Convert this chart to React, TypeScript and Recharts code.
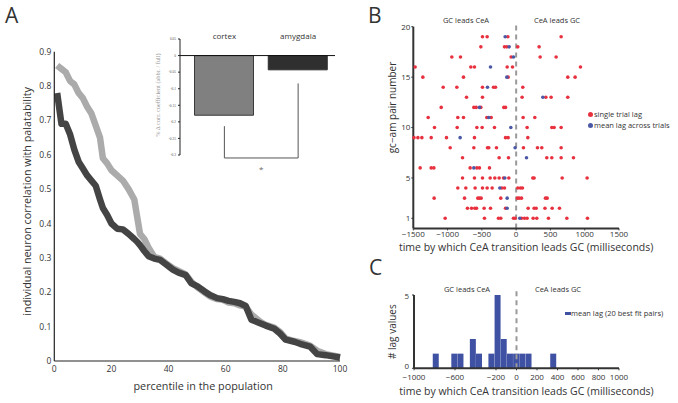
import React from 'react';
import {
  LineChart,
  Line,
  XAxis,
  YAxis,
  BarChart,
  Bar,
  Cell,
  ScatterChart,
  Scatter,
  ReferenceLine,
  Legend,
  Label,
} from 'recharts';

const FONT = '"Open Sans", sans-serif';
const INK = '#333';

// ---- panel A: correlation with palatability by percentile
const percentile = [
  1, 2.5, 4, 5.5, 7, 8.5, 10, 11.5, 13, 14.5, 16, 17, 18.5, 20, 22, 24, 26, 28, 29, 30, 31.5, 33, 35, 37, 39, 41.5,
  43.5, 46, 48, 50, 52.5, 54.5, 57, 59, 61, 63, 65, 67, 69, 72, 74, 77, 79, 81, 84, 86, 89.5, 92, 95, 100,
];
const cortexCorr = [
  0.86, 0.85, 0.84, 0.815, 0.805, 0.78, 0.765, 0.74, 0.72, 0.685, 0.65, 0.59, 0.575, 0.555, 0.54, 0.525, 0.5, 0.47,
  0.42, 0.37, 0.355, 0.33, 0.303, 0.298, 0.285, 0.27, 0.262, 0.252, 0.23, 0.215, 0.2, 0.188, 0.18, 0.178, 0.17, 0.168,
  0.162, 0.158, 0.135, 0.115, 0.105, 0.097, 0.085, 0.065, 0.058, 0.055, 0.045, 0.03, 0.02, 0.012,
];
const amygdalaCorr = [
  0.78, 0.69, 0.69, 0.66, 0.615, 0.58, 0.56, 0.54, 0.525, 0.51, 0.47, 0.445, 0.425, 0.4, 0.385, 0.383, 0.37, 0.355,
  0.347, 0.337, 0.32, 0.305, 0.298, 0.294, 0.282, 0.266, 0.257, 0.25, 0.226, 0.218, 0.203, 0.192, 0.183, 0.18, 0.175,
  0.172, 0.168, 0.16, 0.12, 0.11, 0.103, 0.094, 0.08, 0.062, 0.056, 0.05, 0.042, 0.02, 0.017, 0.01,
];
const pctTicks = [0, 20, 40, 60, 80, 100];
const corrTicks = [0, 0.1, 0.2, 0.3, 0.4, 0.5, 0.6, 0.7, 0.8, 0.9];

// inset: change of correlation coefficient
const insetGroups = ['cortex', 'amygdala'];
const insetChange = [-0.18, -0.043];
const insetColors = ['#808080', '#2f2f2f'];
const insetTicks = [0.05, 0, -0.05, -0.1, -0.15, -0.2, -0.25, -0.3];

// ---- panel B: lag per gc-am pair
const pairRows = [1, 2, 3, 4, 5, 6, 7, 8, 9, 10, 11, 12, 13, 14, 15, 16, 17, 18, 19];
const singleTrialLags = [
  [-1035, -462, -258, -224, -39, -15, 78, 121, 160, 248, 301, 471, 739, 1040],
  [-710, -651, -603, -578, -467, -374, -155, 175, 262, 292, 420, 525, 632],
  [-1196, -753, -559, -535, -510, -224, 19, 44, 78, 428, 452],
  [-851, -734, -598, -491, -423, -350, -209, -170, 24, 63, 92],
  [-782, -608, -491, -379, -311, -248, -185, -107, 243, 262, 671, 1035],
  [-1400, -1239, -1200, -671, -573, -535, -389],
  [-782, -248, -112, 447, 520, 656, 836],
  [-962, -617, -418, -399, -287, 107, 311, 374, 656],
  [-1490, -1433, -1375, -1239, -1016, -608, -155, -117, 170],
  [-1191, -860, -573, -496, -316, 160, 520, 554, 656],
  [-1283, -851, -768, -428, -364, 102, 272],
  [-1093, -617, -583, -515, -180, -155],
  [-724, -491, 87, 433, 510, 753],
  [-1064, -865, -491, -330, -301, 97],
  [-1361, -768, -117, 753, 860],
  [-1473, -661, -608, -131, -53, 938],
  [-938, -812, -73, 350, 583],
  [-515, -170, -136, 24, 335],
  [-491, -423, -121, 656],
];
const meanLags = [53, -131, -131, -238, -165, -617, 151, -15, -817, -78, -399, -535, 389, -418, -136, -374, -39, -102, -160];
const lagTicksB = [-1500, -1000, -500, 0, 500, 1000, 1500];
const pairTicks = [1, 5, 10, 15, 20];

// ---- panel C: histogram of mean lags (20 equal bins)
const binCenters = [
  -787, -727, -666, -606, -546, -486, -425, -365, -305, -244, -184, -124, -63, -3, 57, 118, 178, 238, 299, 359,
];
const binCounts = [1, 0, 0, 1, 1, 0, 2, 1, 0, 1, 5, 2, 1, 1, 1, 1, 0, 0, 0, 1];
const lagTicksC = [-1000, -800, -600, -400, -200, 0, 200, 400, 600, 800, 1000];

const lineData = percentile.map((p, i) => ({ p, cortex: cortexCorr[i], amygdala: amygdalaCorr[i] }));
const insetData = insetGroups.map((g, i) => ({ group: g, change: insetChange[i] }));
const trialPoints = pairRows.flatMap((row, i) => singleTrialLags[i].map((lag) => ({ lag, pair: row })));
const meanPoints = pairRows.map((row, i) => ({ lag: meanLags[i], pair: row }));
const histData = binCenters.map((c, i) => ({ center: c, count: binCounts[i] }));

const minus = (v: number) => String(v).replace('-', '\u2212');

function AxisTitle(props: any) {
  const { viewBox, text, dx = 0, dy = 0, rotate = false, size = 10, color = INK, family = FONT } = props;
  const vb = viewBox || { x: 0, y: 0, width: 0, height: 0 };
  const x = vb.x + (rotate ? dx : vb.width / 2 + dx);
  const y = vb.y + (rotate ? vb.height / 2 + dy : dy);
  return (
    <text
      x={x}
      y={y}
      textAnchor="middle"
      dominantBaseline="central"
      transform={rotate ? `rotate(-90 ${x} ${y})` : undefined}
      fontSize={size}
      fill={color}
      fontFamily={family}
    >
      {text}
    </text>
  );
}

// y tick of panel C: the zero label sits a little higher so it clears the x ticks
function CountTick(props: any) {
  const { x, y, payload } = props;
  const lift = payload.value === 0 ? 3 : 0;
  return (
    <text x={x} y={y - lift} textAnchor="end" dominantBaseline="central" fontSize={8} fill={INK} fontFamily={FONT}>
      {payload.value}
    </text>
  );
}

function DotShape(props: any) {
  const { cx, cy, fill } = props;
  if (cx == null || cy == null) return null;
  return <circle cx={cx} cy={cy} r={1.8} fill={fill} />;
}

function LegendList(props: any) {
  const { payload, bar, order } = props;
  const items = [...(payload || [])];
  if (order) items.sort((a: any, b: any) => order.indexOf(a.value) - order.indexOf(b.value));
  return (
    <div style={{ fontSize: 7.5, color: INK, lineHeight: '11px', fontFamily: FONT, whiteSpace: 'nowrap' }}>
      {items.map((e: any) => (
        <div key={e.value} style={{ display: 'flex', alignItems: 'center' }}>
          <span
            style={{
              display: 'inline-block',
              width: bar ? 6 : 5,
              height: bar ? 3 : 5,
              borderRadius: bar ? 0 : '50%',
              background: e.color,
              marginRight: bar ? 0 : 1,
            }}
          />
          {e.value}
        </div>
      ))}
    </div>
  );
}

const tickStyle = { fontSize: 8, fill: INK, fontFamily: FONT };

const abs = (left: number, top: number): React.CSSProperties => ({ position: 'absolute', left, top });

export default function App() {
  return (
    <div style={{ position: 'absolute', left: 0, top: 0, width: 678, height: 403, background: '#fff', fontFamily: FONT, color: INK, overflow: 'hidden' }}>
      {/* panel A */}
      <div style={abs(0, 0)}>
        <LineChart width={360} height={403} data={lineData} margin={{ top: 51.7, right: 20, bottom: 0, left: 0 }}>
          <XAxis
            dataKey="p"
            type="number"
            domain={[0, 100]}
            ticks={pctTicks}
            tickLine={false}
            tickSize={0}
            tickMargin={5}
            height={42}
            axisLine={{ stroke: '#222', strokeWidth: 1.2 }}
            tick={{ ...tickStyle, fontSize: 8.5 }}
          >
            <Label content={(p: any) => <AxisTitle {...p} text="percentile in the population" dy={24} dx={6} size={10.8} />} />
          </XAxis>
          <YAxis
            type="number"
            domain={[0, 0.9]}
            ticks={corrTicks}
            width={54.3}
            tickLine={false}
            tickSize={0}
            tickMargin={3}
            axisLine={{ stroke: '#222', strokeWidth: 1.2 }}
            tick={{ ...tickStyle, fontSize: 8.5 }}
            tickFormatter={(v: number) => (v === 0 ? '0' : v.toFixed(1))}
          >
            <Label
              content={(p: any) => (
                <AxisTitle {...p} text="individual neuron correlation with palatability" rotate dx={27} dy={-5} size={10.8} />
              )}
            />
          </YAxis>
          <Line dataKey="cortex" type="linear" stroke="#ababab" strokeWidth={6.5} dot={false} strokeLinejoin="round" isAnimationActive={false} />
          <Line dataKey="amygdala" type="linear" stroke="#444" strokeWidth={6.5} dot={false} strokeLinejoin="round" isAnimationActive={false} />
        </LineChart>
      </div>

      {/* inset */}
      <div style={abs(130, 20)}>
        <BarChart width={210} height={165} data={insetData} margin={{ top: 0, right: 5, bottom: 30, left: 0 }}>
          <XAxis
            dataKey="group"
            orientation="top"
            height={19}
            axisLine={false}
            tickLine={false}
            tickSize={0}
            tickMargin={0}
            padding={{ left: 7.5, right: 0 }}
            tick={{ ...tickStyle, fontSize: 8 }}
          />
          <YAxis
            type="number"
            domain={[-0.3, 0.05]}
            ticks={insetTicks}
            width={50}
            tickSize={2}
            tickMargin={2}
            axisLine={{ stroke: '#222', strokeWidth: 1 }}
            tickLine={{ stroke: '#222' }}
            tick={{ fontSize: 3.5, fill: '#555', fontFamily: '"Liberation Serif", serif' }}
            tickFormatter={(v: number) => String(Number(v.toFixed(2)))}
          >
            <Label
              content={(p: any) => (
                <AxisTitle
                  {...p}
                  text="% Δ corr. coefficient (abbr. / full)"
                  rotate
                  dx={27}
                  dy={-2}
                  size={6.3}
                  color="#999"
                  family='"Liberation Serif", serif'
                />
              )}
            />
          </YAxis>
          <Bar dataKey="change" barSize={59} isAnimationActive={false}>
            {insetData.map((d, i) => (
              <Cell key={d.group} fill={insetColors[i]} stroke={i === 0 ? '#3a3a3a' : insetColors[i]} strokeWidth={1} />
            ))}
          </Bar>
          <ReferenceLine y={0} stroke="#111" strokeWidth={1} />
          <ReferenceLine
            segment={[{ x: 'cortex', y: -0.213 }, { x: 'cortex', y: -0.309 }]}
            stroke="#555"
            strokeWidth={1}
            ifOverflow="visible"
          />
          <ReferenceLine
            segment={[{ x: 'amygdala', y: -0.084 }, { x: 'amygdala', y: -0.309 }]}
            stroke="#555"
            strokeWidth={1}
            ifOverflow="visible"
          />
          <ReferenceLine
            segment={[{ x: 'cortex', y: -0.309 }, { x: 'amygdala', y: -0.309 }]}
            stroke="#555"
            strokeWidth={1}
            ifOverflow="visible"
            label={{ value: '*', position: 'bottom', offset: 8, fontSize: 8, fill: '#666' }}
          />
        </BarChart>
      </div>

      {/* panel B */}
      <div style={abs(370, 0)}>
        <ScatterChart width={308} height={260} margin={{ top: 26.7, right: 59, bottom: 0, left: 0 }}>
          <XAxis
            dataKey="lag"
            type="number"
            domain={[-1500, 1500]}
            ticks={lagTicksB}
            height={31.6}
            tickSize={2}
            tickMargin={1}
            axisLine={{ stroke: '#333', strokeWidth: 2 }}
            tickLine={{ stroke: '#333' }}
            tick={tickStyle}
            tickFormatter={minus}
          >
            <Label
              content={(p: any) => (
                <AxisTitle {...p} text="time by which CeA transition leads GC (milliseconds)" dy={18.6} dx={10} size={10.5} />
              )}
            />
          </XAxis>
          <YAxis
            dataKey="pair"
            type="number"
            domain={[0, 20]}
            ticks={pairTicks}
            width={43.3}
            tickSize={2}
            tickMargin={1}
            axisLine={{ stroke: '#333', strokeWidth: 2 }}
            tickLine={{ stroke: '#333' }}
            tick={tickStyle}
          >
            <Label content={(p: any) => <AxisTitle {...p} text="gc−am pair number" rotate dx={22} dy={-20} size={10} />} />
          </YAxis>
          <ReferenceLine
            segment={[{ x: 0, y: 0 }, { x: 0, y: 20.5 }]}
            stroke="#9a9a9a"
            strokeWidth={2}
            strokeDasharray="5 4"
            ifOverflow="visible"
          />
          <Scatter name="single trial lag" data={trialPoints} fill="#e8313f" shape={<DotShape />} isAnimationActive={false} />
          <Scatter name="mean lag across trials" data={meanPoints} fill="#4a58a6" shape={<DotShape />} isAnimationActive={false} />
          <Legend
            layout="vertical"
            align="center"
            verticalAlign="middle"
            wrapperStyle={{ left: 218, top: 108.5, width: 'auto' }}
            content={(p: any) => <LegendList {...p} order={['single trial lag', 'mean lag across trials']} />}
          />
        </ScatterChart>
      </div>

      {/* panel C */}
      <div style={abs(370, 280)}>
        <BarChart
          width={308}
          height={123}
          data={histData}
          barCategoryGap={0}
          margin={{ top: 15, right: 59, bottom: 0, left: 0 }}
        >
          <XAxis
            dataKey="center"
            type="number"
            domain={[-1000, 1000]}
            ticks={lagTicksC}
            height={34.7}
            tickSize={2}
            tickMargin={4}
            axisLine={{ stroke: '#333', strokeWidth: 2 }}
            tickLine={{ stroke: '#333' }}
            tick={tickStyle}
            tickFormatter={minus}
          >
            <Label
              content={(p: any) => (
                <AxisTitle {...p} text="time by which CeA transition leads GC (milliseconds)" dy={23} dx={10} size={10.5} />
              )}
            />
          </XAxis>
          <YAxis
            type="number"
            domain={[0, 5]}
            ticks={[0, 5]}
            width={44}
            tickSize={2}
            tickMargin={3}
            axisLine={{ stroke: '#333', strokeWidth: 2 }}
            tickLine={{ stroke: '#333' }}
            tick={<CountTick />}
          >
            <Label content={(p: any) => <AxisTitle {...p} text="# lag values" rotate dx={22} dy={0} size={10} />} />
          </YAxis>
          <ReferenceLine
            segment={[{ x: 0, y: 0 }, { x: 0, y: 5.34 }]}
            stroke="#9a9a9a"
            strokeWidth={2}
            strokeDasharray="5 4"
            ifOverflow="visible"
          />
          <Bar dataKey="count" name="mean lag (20 best fit pairs)" fill="#3f51a3" isAnimationActive={false} />
          <Legend
            layout="vertical"
            align="center"
            verticalAlign="middle"
            wrapperStyle={{ left: 195, top: 28, width: 'auto' }}
            content={(p: any) => <LegendList {...p} bar />}
          />
        </BarChart>
      </div>

      {/* panel letters and region notes */}
      <div style={{ ...abs(5, 2), fontSize: 21, lineHeight: '26px' }}>A</div>
      <div style={{ ...abs(368, 2), fontSize: 21, lineHeight: '26px' }}>B</div>
      <div style={{ ...abs(369, 254), fontSize: 21, lineHeight: '26px' }}>C</div>
      <div style={{ ...abs(430, 14), fontSize: 7.5, lineHeight: '12px', width: 72, textAlign: 'center' }}>GC leads CeA</div>
      <div style={{ ...abs(521, 14), fontSize: 7.5, lineHeight: '12px', width: 72, textAlign: 'center' }}>CeA leads GC</div>
      <div style={{ ...abs(431, 283), fontSize: 7.5, lineHeight: '12px', width: 72, textAlign: 'center' }}>GC leads CeA</div>
      <div style={{ ...abs(522, 283), fontSize: 7.5, lineHeight: '12px', width: 72, textAlign: 'center' }}>CeA leads GC</div>
    </div>
  );
}
